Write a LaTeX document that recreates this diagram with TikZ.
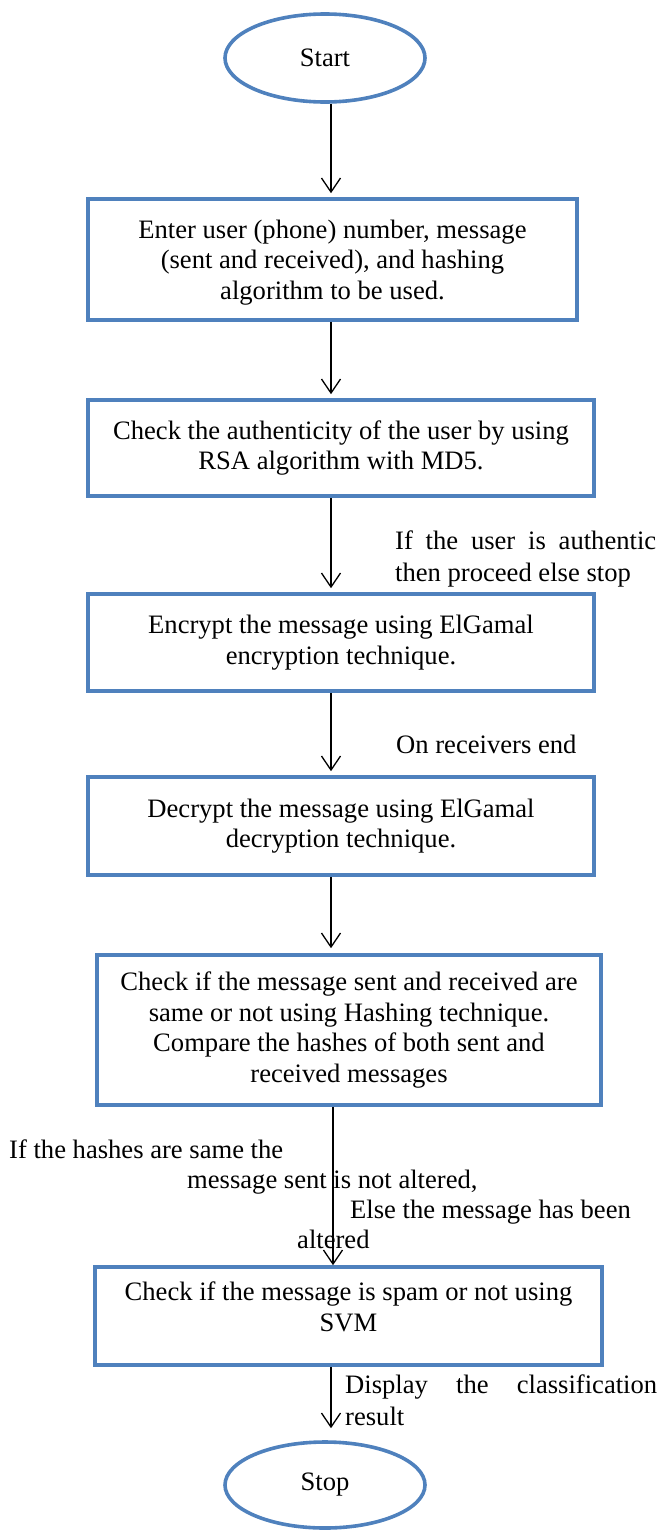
\documentclass[tikz,border=0pt]{standalone}
\usepackage{fontspec}
\setmainfont{Liberation Serif}
\usetikzlibrary{arrows.meta,shapes.geometric,calc}
\definecolor{boxblue}{RGB}{79,129,189}
\begin{document}
\begin{tikzpicture}[x=1pt,y=-1pt,
  font=\fontsize{26.6}{30.5}\selectfont,
  stepbox/.style={draw=boxblue,line width=3.6pt,rectangle,align=center,inner sep=0pt},
  term/.style={draw=boxblue,line width=3.6pt,ellipse,inner sep=0pt,minimum width=200pt,minimum height=88pt},
  arr/.style={line width=1.3pt,-{Straight Barb[length=14pt,width=19pt,line width=1.3pt]},shorten >=4pt},
  lbl/.style={inner sep=0pt,anchor=base west}]
\useasboundingbox (0,0) rectangle (657,1531);
\coordinate (axis) at (331,0);
\coordinate (axisB) at (333,0);

\node[term] (start) at (325,58) {Start};
\node[stepbox,minimum width=489pt,minimum height=121pt,text depth=0pt] (b1) at (332.5,259.5)
  {Enter user (phone) number, message\\(sent and received), and hashing\\algorithm to be used.};
\node[stepbox,minimum width=506pt,minimum height=96pt] (b2) at (341,448)
  {Check the authenticity of the user by using\\RSA algorithm with MD5.};
\node[stepbox,minimum width=506pt,minimum height=97pt] (b3) at (341,642.5)
  {Encrypt the message using ElGamal\\encryption technique.};
\node[stepbox,minimum width=506pt,minimum height=98pt] (b4) at (341,826)
  {Decrypt the message using ElGamal\\decryption technique.};
\node[stepbox,minimum width=504pt,minimum height=150pt] (b5) at (349,1030)
  {Check if the message sent and received are\\same or not using Hashing technique.\\Compare the hashes of both sent and\\received messages};
\node[stepbox,minimum width=507pt,minimum height=98pt,text depth=19pt] (b6) at (348.5,1316)
  {Check if the message is spam or not using\\SVM};
\node[term,minimum height=86pt] (stop) at (325,1485) {Stop};

\draw[arr] (start.south -| axis) -- (b1.north -| axis);
\draw[arr] (b1.south -| axis) -- (b2.north -| axis);
\draw[arr] (b2.south -| axis) -- (b3.north -| axis);
\draw[arr] (b3.south -| axis) -- (b4.north -| axis);
\draw[arr,shorten >=5pt] (b4.south -| axis) -- (b5.north -| axis);
\draw[arr,shorten >=0pt] (b5.south -| axisB) -- (b6.north -| axisB);
\draw[arr,shorten >=12pt] (b6.south -| axis) -- (stop.north -| axis);

\node[lbl] (l1) at (395,549) {\parbox[t]{261pt}{\baselineskip=32pt If the user is authentic\linebreak then proceed else stop}};
\node[lbl] (l2) at (396,753) {On receivers end};
\node[lbl] (l3) at (9,1158) {\parbox[t]{645pt}{\raggedright\baselineskip=30.3pt If the hashes are same the\\\hspace*{178pt}message sent is not altered,\\\hspace*{341pt}Else the message has been\\\hspace*{288pt}altered}};
\node[lbl] (l4) at (345,1393) {\parbox[t]{312pt}{\baselineskip=32pt Display the classification\linebreak result}};
\end{tikzpicture}
\end{document}
